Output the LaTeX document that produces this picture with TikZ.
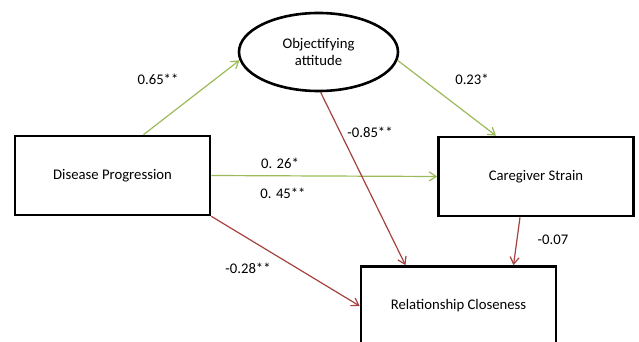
\documentclass[tikz,border=0pt]{standalone}
\usepackage{fontspec}
\setmainfont{Carlito}
\usetikzlibrary{arrows.meta,shapes.geometric}
\definecolor{pathgreen}{HTML}{9BBB59}
\definecolor{pathred}{HTML}{A5423F}
\begin{document}
\begin{tikzpicture}[x=1pt, y=-1pt, >={Straight Barb[length=7pt,width=9pt]},
    box/.style={draw, line width=2.6pt, minimum width=195pt, minimum height=79pt, inner sep=0pt},
    lab/.style={inner sep=0pt},
    gpath/.style={->, pathgreen, line width=1.2pt},
    rpath/.style={->, pathred, line width=1.2pt},
    every node/.style={font=\fontsize{14.7}{17}\selectfont}]
\useasboundingbox (0,0) rectangle (639,342);

\node[box] (DP) at (112.5,175.5) {Disease Progression};
\node[box] (CS) at (536,176.5) {Caregiver Strain};
\node[box] (RC) at (458.5,306) {Relationship Closeness};
\node[draw, ellipse, line width=2.6pt, minimum width=159pt, minimum height=78pt, inner sep=0pt,
      align=center] (OA) at (318.5,52) {Objectifying\\attitude};

\draw[gpath] ([xshift=31pt]DP.north) -- (OA.186);
\draw[gpath] (OA.354) -- ([xshift=-40pt]CS.north);
\draw[gpath] (DP.east) -- (CS.west);
\draw[rpath] (OA.273) -- ([xshift=-53pt]RC.north);
\draw[rpath] ([xshift=-16pt]CS.south) -- ([xshift=55pt]RC.north);
\draw[rpath] (DP.south east) -- (RC.west);

\node[lab] (l1) at (158,79) {0.65**};
\node[lab] (l2) at (472,79) {0.23*};
\node[lab] (l3) at (370,132) {-0.85**};
\node[lab] (l4) at (280,163) {0. 26*};
\node[lab] (l5) at (283,193) {0. 45**};
\node[lab] (l6) at (248,268) {-0.28**};
\node[lab] (l7) at (553,240) {-0.07};
\end{tikzpicture}
\end{document}
